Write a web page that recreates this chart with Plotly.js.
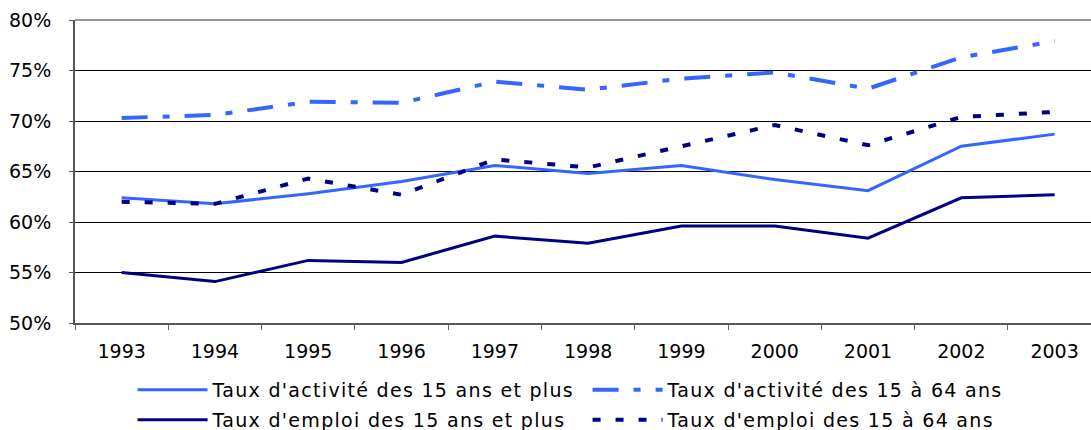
<!DOCTYPE html>
<html>
<head>
<meta charset="utf-8">
<script src="https://cdn.plot.ly/plotly-3.0.1.min.js"></script>
<style>
html,body{margin:0;padding:0;background:#fff;}
#chart{width:1091px;height:430px;}
#chart text.legendtext, #chart text.legend2text{letter-spacing:1.3px !important;}
</style>
</head>
<body>
<div id="chart"></div>
<script>
const years = ['1993','1994','1995','1996','1997','1998','1999','2000','2001','2002','2003'];
const activite15plus = [62.4, 61.8, 62.8, 64.0, 65.6, 64.8, 65.6, 64.2, 63.1, 67.5, 68.7];
const activite15a64 = [70.3, 70.6, 71.9, 71.8, 73.9, 73.1, 74.2, 74.8, 73.2, 76.3, 77.9];
const emploi15plus = [55.0, 54.1, 56.2, 56.0, 58.6, 57.9, 59.6, 59.6, 58.4, 62.4, 62.7];
const emploi15a64 = [62.0, 61.8, 64.3, 62.7, 66.2, 65.4, 67.5, 69.6, 67.6, 70.4, 70.9];
const seriesNames = [
  "Taux d'activité des 15 ans et plus",
  "Taux d'activité des 15 à 64 ans",
  "Taux d'emploi des 15 ans et plus",
  "Taux d'emploi des 15 à 64 ans"
];

const lightBlue = '#3366FF';
const navy = '#000080';

const traces = [
  {x: years, y: activite15plus, name: seriesNames[0], type: 'scatter', mode: 'lines',
   line: {color: lightBlue, width: 3}, legend: 'legend'},
  {x: years, y: activite15a64, name: seriesNames[1], type: 'scatter', mode: 'lines',
   line: {color: lightBlue, width: 4, dash: '26px,15px,7px,15px'}, legend: 'legend'},
  {x: years, y: emploi15plus, name: seriesNames[2], type: 'scatter', mode: 'lines',
   line: {color: navy, width: 3}, legend: 'legend2'},
  {x: years, y: emploi15a64, name: seriesNames[3], type: 'scatter', mode: 'lines',
   line: {color: navy, width: 4, dash: '8px,15px'}, legend: 'legend2'}
];

const legendCommon = {
  orientation: 'h', xref: 'container', yref: 'container',
  xanchor: 'left', yanchor: 'middle',
  entrywidth: 370, entrywidthmode: 'pixels',
  itemwidth: 70, font: {size: 19, color: '#000'},
  bgcolor: 'rgba(0,0,0,0)', borderwidth: 0
};

const layout = {
  width: 1091, height: 430,
  margin: {l: 75, r: 0, t: 20, b: 107},
  paper_bgcolor: '#fff', plot_bgcolor: '#fff',
  font: {family: 'DejaVu Sans, Verdana, sans-serif', color: '#000', size: 18},
  showlegend: true,
  hovermode: false,
  xaxis: {
    type: 'category', range: [-0.5, 10.39], fixedrange: true,
    tickson: 'boundaries', ticks: 'outside', ticklen: 5, tickcolor: '#666', tickwidth: 1,
    showline: true, linecolor: '#555', linewidth: 2,
    showgrid: false, zeroline: false,
    tickfont: {size: 19}, ticklabelstandoff: 10
  },
  yaxis: {
    range: [50, 80], dtick: 5, tick0: 50, ticksuffix: '%', fixedrange: true,
    ticks: 'outside', ticklen: 4, tickcolor: '#555', tickwidth: 1,
    showline: true, linecolor: '#555', linewidth: 2,
    showgrid: true, gridcolor: '#000', gridwidth: 1, zeroline: false,
    tickfont: {size: 19}, ticklabelstandoff: 14
  },
  legend: Object.assign({}, legendCommon, {x: 0.1215, y: 1 - 390/430}),
  legend2: Object.assign({}, legendCommon, {x: 0.1215, y: 1 - 420/430}),
  shapes: [
    {type: 'line', xref: 'paper', yref: 'paper', x0: 0, x1: 1, y0: 1, y1: 1,
     line: {color: '#999', width: 2}}
  ]
};

function spaceLegend() {
  document.querySelectorAll('#chart g.legend text, #chart g.legend2 text, #chart text.legendtext, #chart text.legend2text').forEach(function (t) {
    t.style.letterSpacing = '1.3px';
  });
}

Plotly.newPlot('chart', traces, layout, {displayModeBar: false, staticPlot: true}).then(function (gd) {
  spaceLegend();
  gd.on('plotly_afterplot', spaceLegend);
});
</script>
</body>
</html>
